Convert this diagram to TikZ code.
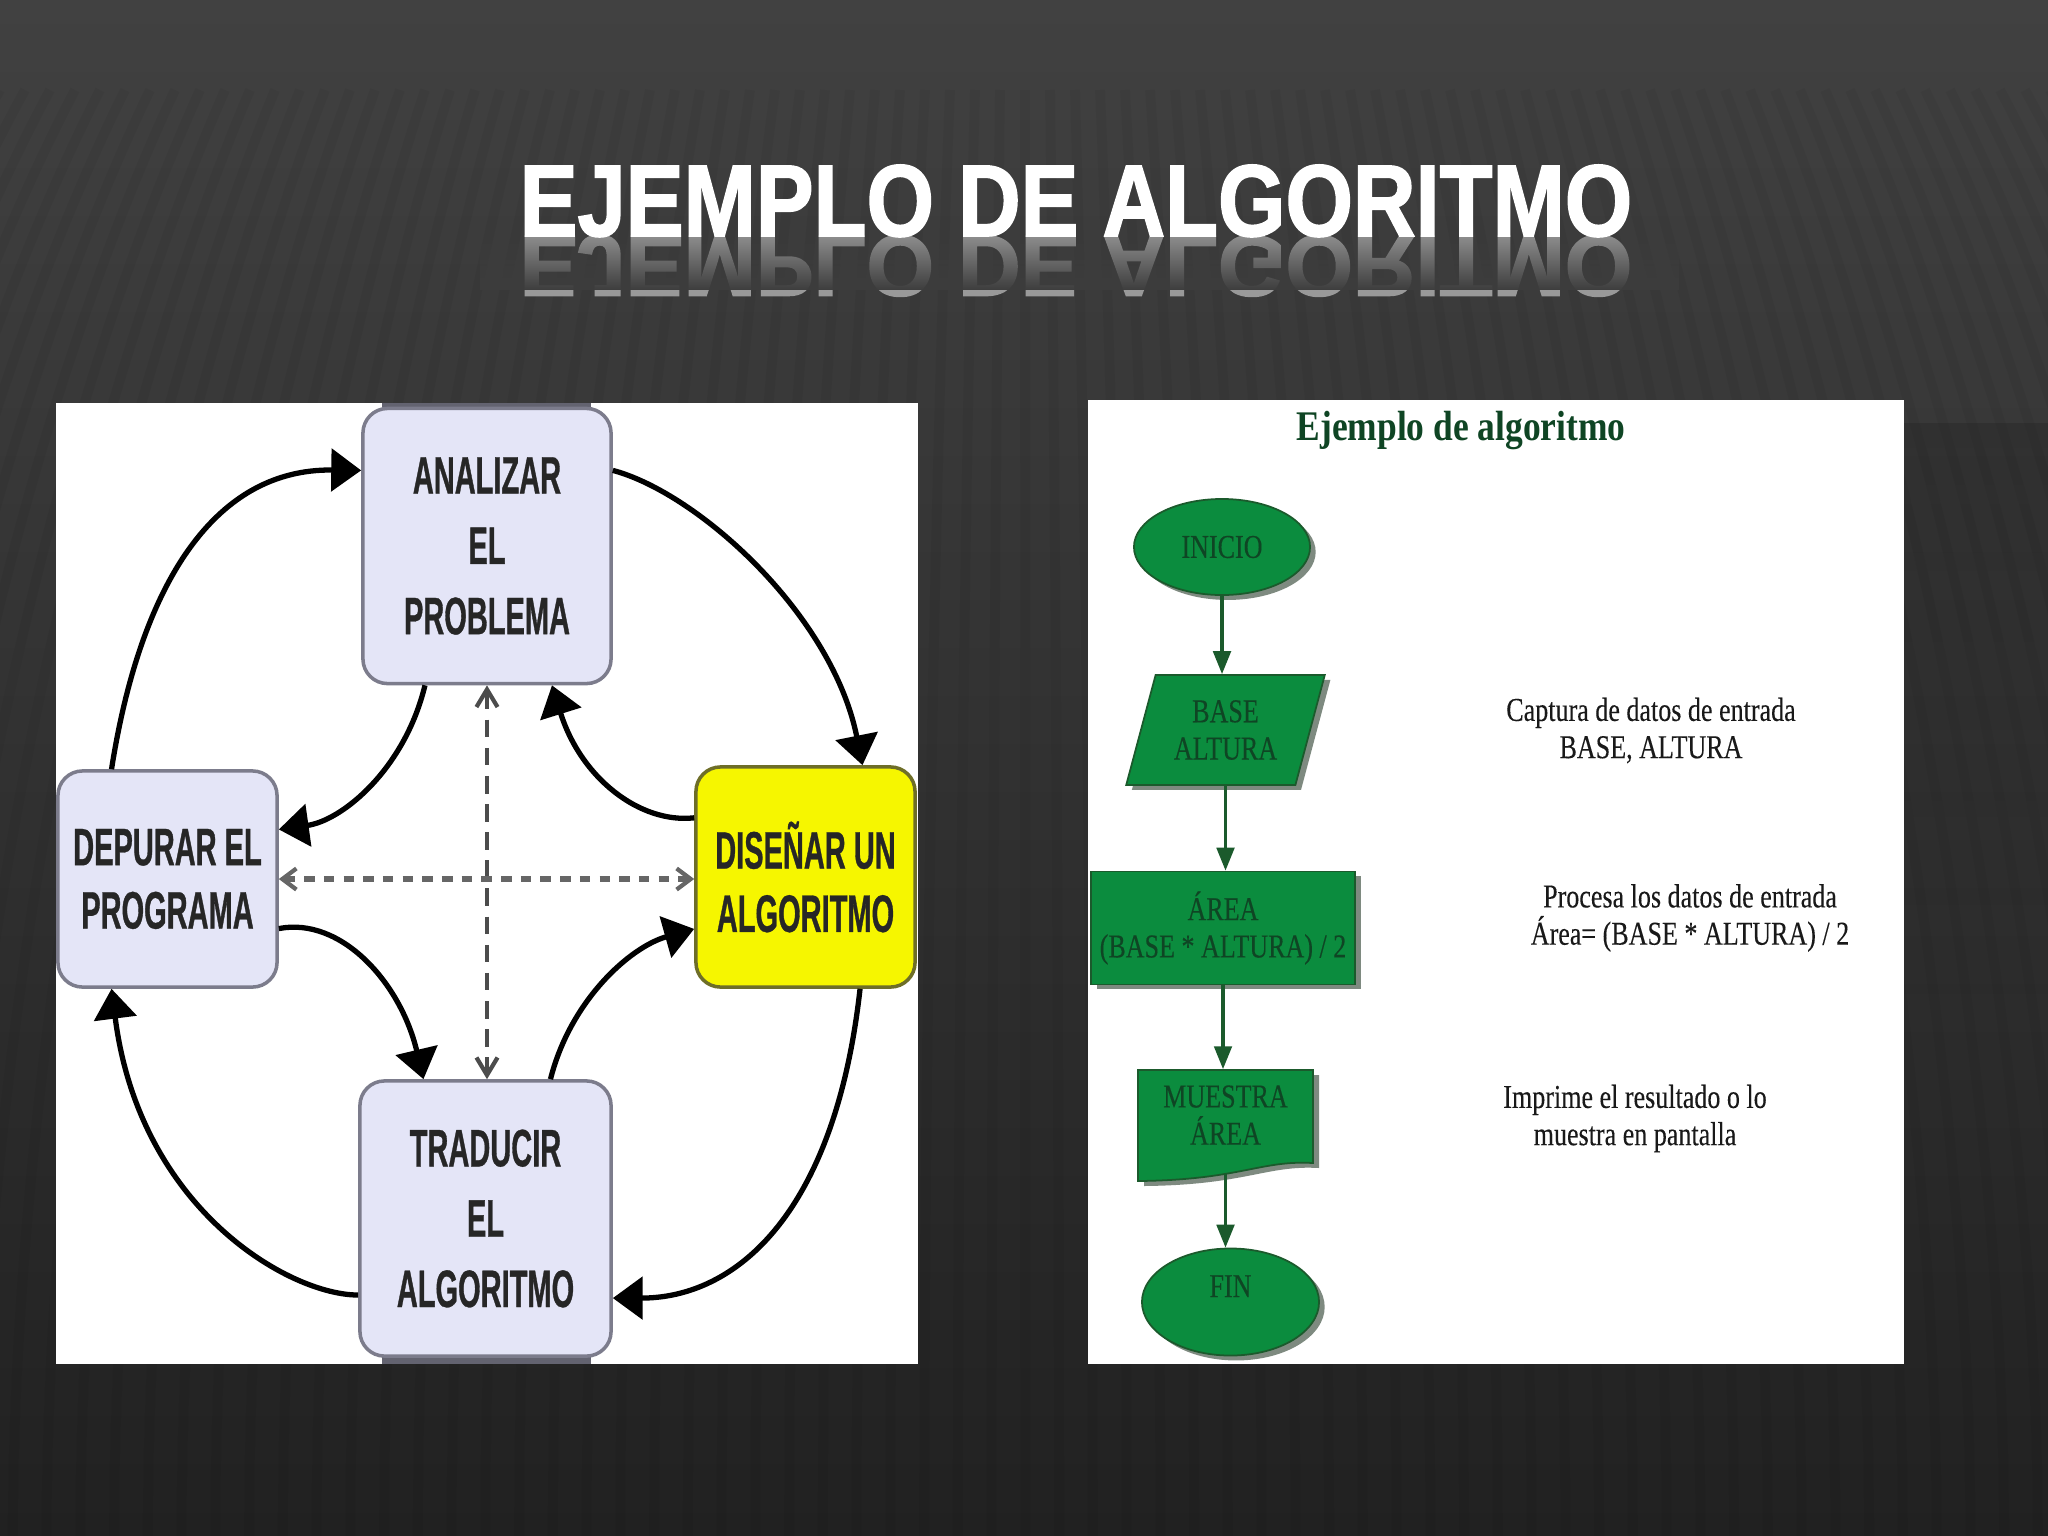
\documentclass[tikz,border=0pt]{standalone}
\usepackage{fontspec}
\usepackage{xcolor}
\usepackage{tikz}
\usetikzlibrary{arrows.meta}
\usetikzlibrary{shapes.geometric}
\usetikzlibrary{shadows,fadings}
\newfontfamily\titlefont{Liberation Sans}[FakeStretch=0.85,FakeBold=1.6]
\newfontfamily\boxfont{Liberation Sans}[FakeStretch=0.55,FakeBold=0.6]
\newfontfamily\headfont{Liberation Serif}[FakeStretch=0.84]
\newfontfamily\notefont{Liberation Serif}[FakeStretch=0.78,FakeBold=0.2]
\definecolor{slidetop}{HTML}{414141}
\definecolor{slidemid}{HTML}{343434}
\definecolor{slidebot}{HTML}{212121}
\definecolor{titlebg}{HTML}{3D3D3D}
\definecolor{boxfill}{HTML}{E4E5F7}
\definecolor{boxedge}{HTML}{7C7C8C}
\definecolor{boxyellow}{HTML}{F6F600}
\definecolor{yellowedge}{HTML}{6E6E28}
\definecolor{flowgreen}{HTML}{0B8C3E}
\definecolor{flowedge}{HTML}{1B5A2C}
\definecolor{flowshadow}{HTML}{7E8A80}
\definecolor{flowtext}{HTML}{0F4524}
\tikzset{
  probbox/.style={draw=boxedge,line width=1pt,fill=boxfill,rounded corners=7pt,inner sep=0pt,
    align=center,text=black!85,font=\boxfont\bfseries\fontsize{15}{20}\selectfont},
  cyclearrow/.style={line width=1.5pt,-{Triangle[length=8.5pt,width=12pt]}},
  dashv/.style={draw=black!70,line width=1.2pt,dash pattern=on 5pt off 3pt,{Straight Barb[length=5pt,width=6pt]}-{Straight Barb[length=5pt,width=6pt]}},
  dashh/.style={draw=black!60,line width=1.6pt,dash pattern=on 3pt off 2.6pt,{Straight Barb[length=4pt,width=6pt,line width=1.2pt]}-{Straight Barb[length=4pt,width=6pt,line width=1.2pt]}},
  flowbox/.style={draw=flowedge,line width=.5pt,fill=flowgreen,inner sep=0pt,align=center,text=flowtext,
    font=\notefont\fontsize{9.5}{10.6}\selectfont},
  flowshade/.style={copy shadow={shadow xshift=1.6pt,shadow yshift=-1.4pt,draw=none,fill=flowshadow}},
  flowarrow/.style={draw=flowedge,line width=.9pt,-{Triangle[length=6.5pt,width=5pt]}},
  note/.style={align=center,text=black!90,inner sep=0pt,font=\notefont\fontsize{9.5}{10.6}\selectfont},
}
\begin{document}
\begin{tikzpicture}[x=0.01cm,y=-0.01cm]
  \useasboundingbox (0,0) rectangle (2048,1536);
  \clip (0,0) rectangle (2048,1536);
  % slide background
  \shade[top color=slidetop,middle color=slidemid,bottom color=slidebot] (0,0) rectangle (2048,1536);
  \foreach \x in {-400,-375,...,2450} {
    \pgfmathsetmacro{\xa}{1024+(\x-1024)*0.22+\x-1024}
    \pgfmathsetmacro{\xb}{1024+(\x-1024)*1.35}
    \draw[black,opacity=.04,line width=2.8pt] (\x,90) .. controls (\xa,490) and (\xb,1100) .. (\xb,1536);
  }
  \fill[black,opacity=.13,path fading=south] (1904,423) rectangle (2048,1000);

  % title
  \node[anchor=base,inner sep=0pt,text=black!40,font=\titlefont\bfseries\fontsize{29}{29}\selectfont] (titlemirror) at (1076,236) {\scalebox{1}[-0.85]{EJEMPLO DE ALGORITMO}};
  \fill[titlebg,path fading=north] (480,228) rectangle (1680,290);
  \node[anchor=base,inner sep=0pt,text=white,font=\titlefont\bfseries\fontsize{29}{29}\selectfont] (title) at (1076,236) {EJEMPLO DE ALGORITMO};

  % left picture
  \fill[white] (56,403) rectangle (918,1364);
  \fill[boxedge!80!black] (382,403) rectangle (591,414);
  \fill[boxedge!80!black] (382,1352) rectangle (591,1364);
  \node[probbox,minimum width=2.48cm,minimum height=2.75cm] (analizar) at (487,546) {ANALIZAR\\EL\\PROBLEMA};
  \node[probbox,minimum width=2.19cm,minimum height=2.16cm] (depurar) at (167.5,879) {DEPURAR EL\\[-2pt]PROGRAMA};
  \node[probbox,minimum width=2.19cm,minimum height=2.20cm,fill=boxyellow,draw=yellowedge] (disenar) at (805.5,877) {DISEÑAR UN\\[-2pt]ALGORITMO};
  \node[probbox,minimum width=2.51cm,minimum height=2.75cm] (traducir) at (485.5,1218.5) {TRADUCIR\\EL\\ALGORITMO};

  \draw[cyclearrow] (depurar.117) .. controls +(28,-179) and +(-150,-2) .. (analizar.149);
  \draw[cyclearrow] (analizar.31) .. controls +(86,23) and +(-30,-150) .. (disenar.63);
  \draw[cyclearrow] (disenar.-64) .. controls +(-25,225) and +(123,0) .. (traducir.-32);
  \draw[cyclearrow] (traducir.-149) .. controls +(-69,0) and +(28,220) .. (depurar.-117);
  \draw[cyclearrow] (analizar.-114) .. controls +(-20,83) and +(64,-9) .. (depurar.24);
  \draw[cyclearrow] (disenar.152) .. controls +(-54,6) and +(29,93) .. (analizar.-65);
  \draw[cyclearrow] (depurar.-24) .. controls +(62,-12) and +(-23,-97) .. (traducir.114);
  \draw[cyclearrow] (traducir.65) .. controls +(20,-79) and +(-64,18) .. (disenar.-155);
  \draw[dashv] (analizar.south) -- (traducir.north -| analizar.south);
  \draw[dashh] (depurar.east) -- (disenar.west |- depurar.east);

  % right picture
  \fill[white] (1088,400) rectangle (1904,1364);
  \node[text=flowtext,inner sep=0pt,font=\headfont\bfseries\fontsize{12}{12}\selectfont] (head) at (1461,431) {Ejemplo de algoritmo};

  \node[flowbox,ellipse,flowshade,minimum width=1.76cm,minimum height=.96cm] (inicio) at (1222,547) {INICIO};
  \node[flowbox,trapezium,trapezium left angle=70,trapezium right angle=110,trapezium stretches=true,flowshade,minimum width=1.99cm,minimum height=1.10cm] (base) at (1225.5,730) {BASE\\ALTURA};
  \node[flowbox,rectangle,flowshade,minimum width=2.64cm,minimum height=1.13cm] (area) at (1223,928) {ÁREA\\(BASE * ALTURA) / 2};
  \def\muestrapath{(1138,1070) -- (1313,1070) -- (1313,1163) .. controls (1260,1160) and (1240,1180) .. (1138,1181) -- cycle}
  \fill[flowshadow,shift={(6,5)}] \muestrapath;
  \filldraw[fill=flowgreen,draw=flowedge,line width=.5pt] \muestrapath;
  \node[flowbox,draw=none,fill=none,minimum width=1.75cm,minimum height=.90cm] (muestra) at (1225.5,1115) {MUESTRA\\ÁREA};
  \node[flowbox,ellipse,flowshade,minimum width=1.77cm,minimum height=1.07cm] (fin) at (1230.5,1302) {\raisebox{9pt}{FIN}};

  \draw[flowarrow] (inicio.south) -- (inicio.south |- base.north);
  \draw[flowarrow] (base.south) -- (base.south |- area.north);
  \draw[flowarrow] (area.south) -- (area.south |- muestra.north);
  \draw[flowarrow,shorten <=3.6pt] (muestra.south) -- (muestra.south |- fin.north);

  \node[note] (captura) at (1651,730.5) {Captura de datos de entrada\\BASE, ALTURA};
  \node[note] (procesa) at (1690,918) {Procesa los datos de entrada\\Área= (BASE * ALTURA) / 2};
  \node[note] (imprime) at (1635,1118.5) {Imprime el resultado o lo\\muestra en pantalla};
\end{tikzpicture}
\end{document}
